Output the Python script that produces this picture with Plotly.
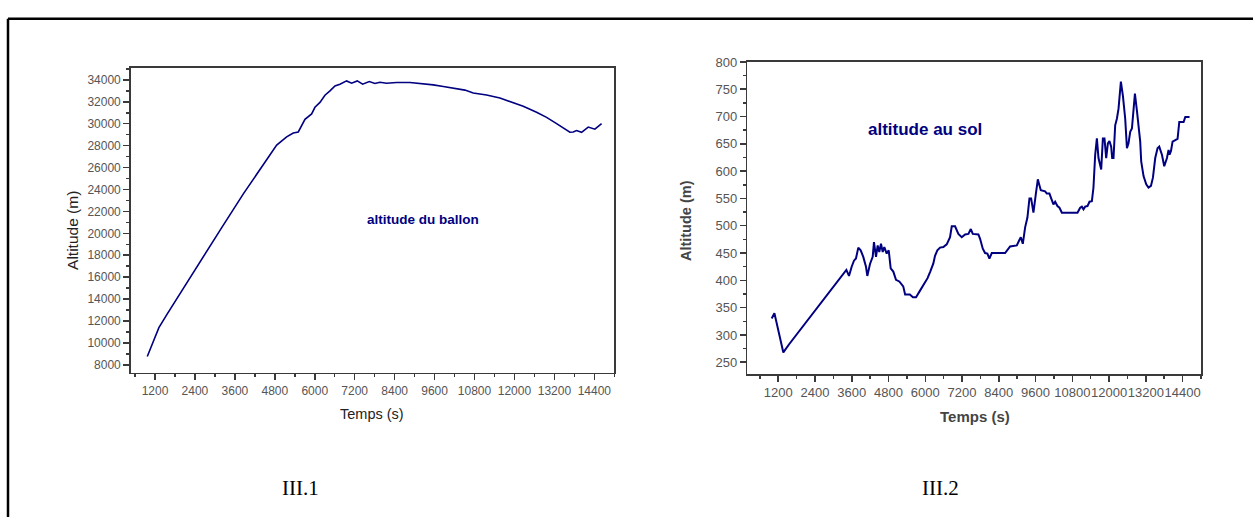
import plotly.graph_objects as go

# ---------------- data ----------------
BALLOON_T = [968, 1317, 1569, 2000, 2553, 3200, 3854, 4400, 4856, 5156, 5354, 5505,
             5606, 5706, 5906, 6006, 6156, 6306, 6457, 6607, 6757, 6957, 7108, 7277,
             7439, 7638, 7809, 7959, 8160, 8460, 8860, 9161, 9561, 9862, 10262, 10512,
             10762, 11163, 11563, 11864, 12264, 12665, 12965, 13266, 13566, 13666,
             13766, 13866, 14017, 14217, 14417, 14618]
BALLOON_ALT = [8750, 11390, 12650, 14750, 17350, 20500, 23600, 26050, 28050, 28800,
               29160, 29250, 29850, 30400, 30900, 31500, 31950, 32600, 33000, 33450,
               33610, 33910, 33700, 33910, 33610, 33850, 33670, 33790, 33700, 33770,
               33770, 33700, 33550, 33400, 33220, 33070, 32800, 32620, 32350, 32050,
               31600, 31050, 30580, 30010, 29400, 29220, 29250, 29380, 29220, 29700,
               29500, 30010]

GROUND_T = [987, 1075, 1366, 1555, 3424, 3509, 3597, 3672, 3737, 3813, 3891, 3976,
            4064, 4107, 4195, 4283, 4325, 4391, 4446, 4499, 4554, 4610, 4662, 4740,
            4806, 4871, 4956, 5044, 5152, 5280, 5342, 5495, 5597, 5698, 5848, 5999,
            6074, 6162, 6263, 6318, 6394, 6482, 6590, 6700, 6808, 6864, 6972, 7080,
            7191, 7299, 7408, 7486, 7551, 7734, 7789, 7877, 7952, 8027, 8093, 8171,
            8605, 8769, 8987, 9063, 9118, 9183, 9259, 9334, 9400, 9455, 9530, 9608,
            9674, 9716, 9771, 9912, 9967, 10052, 10131, 10183, 10239, 10314, 10380,
            10458, 10968, 11056, 11111, 11164, 11219, 11294, 11360, 11438, 11490,
            11546, 11601, 11654, 11742, 11797, 11850, 11905, 11960, 12012, 12068,
            12101, 12144, 12199, 12254, 12307, 12385, 12451, 12526, 12582, 12634,
            12689, 12745, 12797, 12843, 12908, 12960, 13016, 13048, 13124, 13212,
            13287, 13366, 13431, 13506, 13581, 13637, 13725, 13800, 13889, 13941,
            13974, 14020, 14072, 14160, 14235, 14291, 14432, 14487, 14627]
GROUND_ALT = [330, 340, 268, 283, 419, 408, 425, 436, 440, 460, 455, 443, 425, 408,
              430, 443, 470, 443, 464, 452, 467, 452, 461, 449, 455, 422, 416, 401,
              398, 389, 374, 374, 369, 369, 383, 398, 404, 416, 431, 445, 455, 460,
              461, 466, 479, 499, 499, 485, 479, 484, 485, 494, 485, 484, 476, 458,
              450, 449, 440, 450, 450, 462, 464, 473, 479, 467, 497, 515, 550, 550,
              524, 558, 585, 576, 565, 563, 559, 559, 548, 539, 544, 536, 533, 524,
              524, 533, 535, 530, 535, 536, 544, 545, 570, 630, 660, 624, 603, 660,
              660, 624, 651, 655, 645, 624, 624, 684, 696, 714, 764, 738, 696, 642,
              651, 672, 678, 714, 742, 711, 678, 654, 618, 591, 576, 570, 573, 588,
              624, 642, 645, 630, 609, 624, 639, 630, 637, 654, 657, 659, 690, 690,
              699, 699]

X_TICKS = [1200, 2400, 3600, 4800, 6000, 7200, 8400, 9600, 10800, 12000, 13200, 14400]
Y1_TICKS = [8000, 10000, 12000, 14000, 16000, 18000, 20000, 22000, 24000, 26000,
            28000, 30000, 32000, 34000]
Y2_TICKS = [250, 300, 350, 400, 450, 500, 550, 600, 650, 700, 750, 800]

# ---------------- layout helpers ----------------
W, H = 1253, 517
def px(x):
    return x / W
def py(y):
    return 1 - y / H

LINE_COLOR = "#000080"
AXIS_COLOR = "#3a3a3a"
FAMILY = "Liberation Sans, Arial, sans-serif"

fig = go.Figure()
fig.add_trace(go.Scatter(x=BALLOON_T, y=BALLOON_ALT, mode="lines",
                         line=dict(color=LINE_COLOR, width=1.6), xaxis="x", yaxis="y",
                         showlegend=False, hoverinfo="skip"))
fig.add_trace(go.Scatter(x=GROUND_T, y=GROUND_ALT, mode="lines",
                         line=dict(color=LINE_COLOR, width=2), xaxis="x2", yaxis="y2",
                         showlegend=False, hoverinfo="skip"))

def main_axis(domain, rng, tickvals, minor_dtick, anchor, fsize):
    return dict(domain=domain, range=rng, anchor=anchor, tickmode="array",
                tickvals=tickvals, ticktext=[str(v) for v in tickvals], tickangle=0,
                ticks="outside", ticklen=6, tickwidth=1.5, tickcolor=AXIS_COLOR,
                minor=dict(dtick=minor_dtick, tick0=0, ticks="outside", ticklen=3,
                           tickwidth=1.5, tickcolor=AXIS_COLOR, showgrid=False),
                showline=True, linecolor=AXIS_COLOR, linewidth=1.5, mirror=True,
                showgrid=False, zeroline=False,
                tickfont=dict(family=FAMILY, size=fsize, color="#555555"))

def mirror_axis(over, anchor, side, rng, tickvals, minor_dtick):
    return dict(overlaying=over, anchor=anchor, side=side, range=rng,
                tickmode="array", tickvals=tickvals, showticklabels=False,
                ticks="inside", ticklen=6, tickwidth=1.5, tickcolor=AXIS_COLOR,
                minor=dict(dtick=minor_dtick, tick0=0, ticks="inside", ticklen=3,
                           tickwidth=1.5, tickcolor=AXIS_COLOR, showgrid=False),
                showline=False, showgrid=False, zeroline=False)

X1_RANGE = [470, 15000]
Y1_RANGE = [7280, 35100]
X2_RANGE = [190, 15000]
Y2_RANGE = [228, 800]

fig.update_layout(
    width=W, height=H, margin=dict(l=0, r=0, t=0, b=0),
    paper_bgcolor="white", plot_bgcolor="white", showlegend=False,
    xaxis=main_axis([px(130.7), px(614.3)], X1_RANGE, X_TICKS, 600, "y", 12),
    yaxis=main_axis([py(370.7), py(61.7)], Y1_RANGE, Y1_TICKS, 1000, "x", 12),
    xaxis2=main_axis([px(747.3), px(1201)], X2_RANGE, X_TICKS, 600, "y2", 13),
    yaxis2=main_axis([py(372.3), py(55.7)], Y2_RANGE, Y2_TICKS, 25, "x2", 13),
    xaxis3=mirror_axis("x", "y", "top", X1_RANGE, X_TICKS, 600),
    yaxis3=mirror_axis("y", "x", "right", Y1_RANGE, Y1_TICKS, 1000),
    xaxis4=mirror_axis("x2", "y2", "top", X2_RANGE, X_TICKS, 600),
    yaxis4=mirror_axis("y2", "x2", "right", Y2_RANGE, Y2_TICKS, 25),
)

# outer frame (top and left edges visible)
fig.add_shape(type="line", xref="paper", yref="paper", x0=px(8), x1=1.0,
              y0=py(12), y1=py(12), line=dict(color="black", width=2.5))
fig.add_shape(type="line", xref="paper", yref="paper", x0=px(8), x1=px(8),
              y0=py(12), y1=0.0, line=dict(color="black", width=2.5))

def ann(text, x, y, size, color, family=FAMILY, bold=False, angle=0):
    fig.add_annotation(text=("<b>%s</b>" % text) if bold else text,
                       xref="paper", yref="paper", x=px(x), y=py(y),
                       xanchor="center", yanchor="middle", showarrow=False,
                       textangle=angle, font=dict(family=family, size=size, color=color))

ann("Altitude (m)", 73, 227, 15.5, "#222222", angle=-90)
ann("Temps (s)", 372.5, 413, 14.5, "#222222")
ann("Altitude (m)", 686, 217, 14.5, "#444444", bold=True, angle=-90)
ann("Temps (s)", 974.5, 415, 15, "#444444", bold=True)
ann("altitude du ballon", 422.5, 215, 13.5, LINE_COLOR, bold=True)
ann("altitude au sol", 925, 124, 17, LINE_COLOR, bold=True)
ann("III.1", 300, 488, 21, "black", family="Liberation Serif, Times New Roman, serif")
ann("III.2", 940, 488, 21, "black", family="Liberation Serif, Times New Roman, serif")

fig.write_html("out.html",
               config={"displayModeBar": False, "staticPlot": True},
               post_script="document.body.style.margin='0';"
                           "document.body.style.overflow='hidden';")
